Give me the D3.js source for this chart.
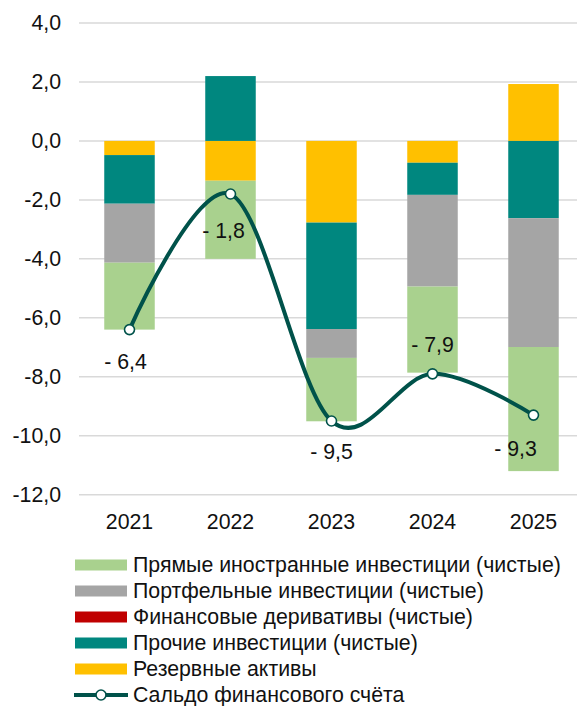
<!DOCTYPE html>
<html>
<head>
  <meta charset="utf-8">
  <title>Финансовый счёт</title>
  <script src="https://d3js.org/d3.v7.min.js"></script>
  <style>
    body { margin: 0; background: #fff; }
    text { font-family: "Liberation Sans", Arial, sans-serif; fill: #111; }
  </style>
</head>
<body>
<script>
// данные (млрд, по картинке)
var years = ["2021", "2022", "2023", "2024", "2025"];
var fdi = [-2.27, -2.65, -2.15, -2.92, -4.21];          // прямые инвестиции
var portfolio = [-2.00, 0.00, -0.98, -3.11, -4.37];     // портфельные
var derivatives = [0, 0, 0, 0, 0];                      // деривативы
var other = [-1.65, 2.20, -3.61, -1.09, -2.62];         // прочие
var reserve = [-0.48, -1.35, -2.77, -0.74, 1.93];       // резервные активы
var balance = [-6.4, -1.8, -9.5, -7.9, -9.3];           // сальдо
var yTicks = [4, 2, 0, -2, -4, -6, -8, -10, -12];

var legendNames = [
  "Прямые иностранные инвестиции (чистые)",
  "Портфельные инвестиции (чистые)",
  "Финансовые деривативы (чистые)",
  "Прочие инвестиции (чистые)",
  "Резервные активы",
  "Сальдо финансового счёта"
];

// сдвиги подписей сальдо
var labelDx = [-4, -7, 0, 0, -18];
var labelDy = [32, 37, 31, -29, 34];

var width = 577, height = 706;
var colors = {fdi: "#a9d18e", portfolio: "#a5a5a5", derivatives: "#c00000", other: "#00877f", reserve: "#ffc000"};
var lineColor = "#00524a";
var fs = "21.3px";

var svg = d3.select("body").append("svg").attr("width", width).attr("height", height);

var x = d3.scaleBand().domain(years).range([79, 584]).paddingInner(0.5).paddingOuter(0.25);
var y = d3.scaleLinear().domain([-12, 4]).range([494.7, 23]);

// сетка
svg.append("g").selectAll("line").data(yTicks).enter().append("line")
  .attr("x1", 79).attr("x2", width)
  .attr("y1", function(d) { return y(d); }).attr("y2", function(d) { return y(d); })
  .attr("stroke", "#d9d9d9").attr("stroke-width", 1.5);

// подписи оси Y
var fmt = function(v) { return d3.format(".1f")(v).replace(".", ",").replace("−", "-"); };
svg.append("g").selectAll("text").data(yTicks).enter().append("text")
  .attr("x", 61).attr("y", function(d) { return y(d); })
  .attr("text-anchor", "end").attr("dominant-baseline", "central")
  .style("font-size", fs)
  .text(fmt);

// столбцы
var rows = years.map(function(yr, i) {
  return {year: yr, reserve: reserve[i], other: other[i], derivatives: derivatives[i], portfolio: portfolio[i], fdi: fdi[i]};
});
var keys = ["reserve", "other", "derivatives", "portfolio", "fdi"];
var stack = d3.stack().keys(keys).offset(d3.stackOffsetDiverging);
var series = stack(rows);

svg.append("g").selectAll("g").data(series).enter().append("g")
  .attr("fill", function(s) { return colors[s.key]; })
  .selectAll("rect").data(function(s) { return s; }).enter().append("rect")
  .attr("x", function(d) { return x(d.data.year); })
  .attr("width", x.bandwidth())
  .attr("y", function(d) { return y(Math.max(d[0], d[1])); })
  .attr("height", function(d) { return Math.abs(y(d[0]) - y(d[1])); });

// подписи лет
svg.append("g").selectAll("text").data(years).enter().append("text")
  .attr("x", function(d) { return x(d) + x.bandwidth() / 2; })
  .attr("y", 528.5)
  .attr("text-anchor", "middle")
  .style("font-size", fs)
  .text(function(d) { return d; });

// линия сальдо
var pts = years.map(function(yr, i) { return [x(yr) + x.bandwidth() / 2, y(balance[i])]; });
svg.append("path")
  .attr("d", d3.line().curve(d3.curveCardinal.tension(0))(pts))
  .attr("fill", "none").attr("stroke", lineColor).attr("stroke-width", 4);

svg.append("g").selectAll("circle").data(pts).enter().append("circle")
  .attr("cx", function(d) { return d[0]; }).attr("cy", function(d) { return d[1]; })
  .attr("r", 5).attr("fill", "#fff").attr("stroke", lineColor).attr("stroke-width", 1.6);

svg.append("g").selectAll("text").data(balance).enter().append("text")
  .attr("x", function(d, i) { return pts[i][0] + labelDx[i]; })
  .attr("y", function(d, i) { return pts[i][1] + labelDy[i]; })
  .attr("text-anchor", "middle").attr("dominant-baseline", "central")
  .style("font-size", fs)
  .text(function(d) { return (d < 0 ? "- " : "") + fmt(Math.abs(d)); });

// легенда
var legendColors = [colors.fdi, colors.portfolio, colors.derivatives, colors.other, colors.reserve];
var lg = svg.append("g");
legendNames.forEach(function(name, i) {
  var cy = 565 + i * 26;
  if (i < 5) {
    lg.append("rect").attr("x", 75).attr("y", cy - 5.5).attr("width", 52).attr("height", 11)
      .attr("fill", legendColors[i]);
  } else {
    lg.append("line").attr("x1", 74).attr("x2", 128).attr("y1", cy).attr("y2", cy)
      .attr("stroke", lineColor).attr("stroke-width", 4);
    lg.append("circle").attr("cx", 101).attr("cy", cy).attr("r", 5)
      .attr("fill", "#fff").attr("stroke", lineColor).attr("stroke-width", 1.6);
  }
  lg.append("text").attr("x", 133).attr("y", cy)
    .attr("dominant-baseline", "central")
    .style("font-size", fs)
    .text(name);
});
</script>
</body>
</html>
